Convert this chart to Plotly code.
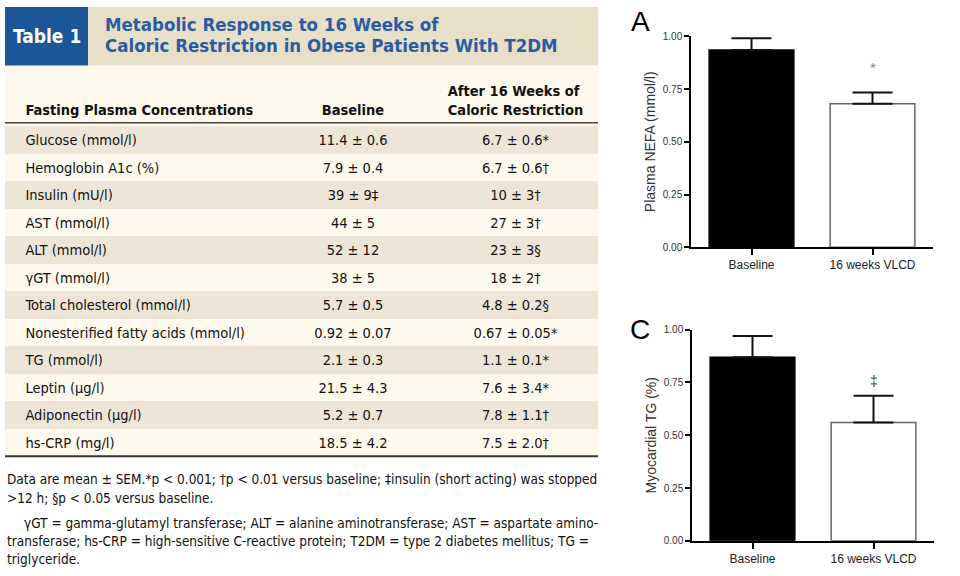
import plotly.graph_objects as go

W, H = 960, 576

# ---------------- data ----------------
table_title_1 = "Metabolic Response to 16 Weeks of"
table_title_2 = "Caloric Restriction in Obese Patients With T2DM"
col_headers = ["Fasting Plasma Concentrations", "Baseline", "After 16 Weeks of<br>Caloric Restriction"]
parameters = ["Glucose (mmol/l)", "Hemoglobin A1c (%)", "Insulin (mU/l)", "AST (mmol/l)",
              "ALT (mmol/l)", "γGT (mmol/l)", "Total cholesterol (mmol/l)",
              "Nonesterified fatty acids (mmol/l)", "TG (mmol/l)", "Leptin (μg/l)",
              "Adiponectin (μg/l)", "hs-CRP (mg/l)"]
baseline_vals = ["11.4 ± 0.6", "7.9 ± 0.4", "39 ± 9‡", "44 ± 5", "52 ± 12", "38 ± 5",
                 "5.7 ± 0.5", "0.92 ± 0.07", "2.1 ± 0.3", "21.5 ± 4.3", "5.2 ± 0.7", "18.5 ± 4.2"]
after_vals = ["6.7 ± 0.6*", "6.7 ± 0.6†", "10 ± 3†", "27 ± 3†", "23 ± 3§", "18 ± 2†",
              "4.8 ± 0.2§", "0.67 ± 0.05*", "1.1 ± 0.1*", "7.6 ± 3.4*", "7.8 ± 1.1†", "7.5 ± 2.0†"]
footnotes = [
    "Data are mean ± SEM.*p &lt; 0.001; †p &lt; 0.01 versus baseline; ‡insulin (short acting) was stopped",
    "&gt;12 h; §p &lt; 0.05 versus baseline.",
    "γGT = gamma-glutamyl transferase; ALT = alanine aminotransferase; AST = aspartate amino-",
    "transferase; hs-CRP = high-sensitive C-reactive protein; T2DM = type 2 diabetes mellitus; TG =",
    "triglyceride.",
]

groups = ["Baseline", "16 weeks VLCD"]
nefa_mean = [0.935, 0.68]
nefa_sem = [0.055, 0.053]
mtg_mean = [0.87, 0.56]
mtg_sem = [0.10, 0.127]

# ---------------- helpers ----------------
SY, OY = 0.976, 6.9   # measured vertical mapping of the photographed page

def px(x):
    return max(0.0, x / W)

def ppy(y):  # target picture y -> page y
    return (y - OY) / SY

def py(y):
    return max(0.0, min(1.0, 1 - ppy(y) / H))

NARROW = "Liberation Sans Narrow, DejaVu Sans Condensed, Arial Narrow, sans-serif"
ARIAL = "Liberation Sans, Arial, sans-serif"
CREAM = "#fdf9ec"
SHADE = "#ede6d6"
BEIGE = "#e8dfc8"
BLUE = "#1c5699"
TITLE_BLUE = "#2a5ca4"
TXT = "#111111"

pad = "\u00a0\u00a0\u00a0"
fig = go.Figure()

# ---------------- table ----------------
row_fill = [SHADE if i % 2 == 0 else CREAM for i in range(len(parameters))]
fig.add_trace(go.Table(
    domain=dict(x=[px(5), px(598)], y=[py(470), py(76)]),
    columnwidth=[268, 160, 165],
    header=dict(
        values=["\u00a0<br>" + pad + "<b>" + col_headers[0] + "</b>",
                "\u00a0<br><b>" + col_headers[1] + "</b>",
                "<b>" + col_headers[2] + "</b>"],
        align=["left", "center", "center"],
        fill_color=CREAM,
        line=dict(width=0, color=CREAM),
        font=dict(family=NARROW, size=14.5, color=TXT),
        height=47,
    ),
    cells=dict(
        values=[[pad + p for p in parameters], baseline_vals, after_vals],
        align=["left", "center", "center"],
        fill_color=[row_fill, row_fill, row_fill],
        line=dict(width=0, color=CREAM),
        font=dict(family=NARROW, size=14.5, color=TXT),
        height=27.5,
    ),
))

shapes = [
    dict(type="rect", xref="paper", yref="paper", x0=px(5), x1=px(598), y0=py(455), y1=py(66),
         fillcolor=CREAM, line=dict(width=0), layer="below"),
    dict(type="rect", xref="paper", yref="paper", x0=px(5), x1=px(88), y0=py(66), y1=py(8),
         fillcolor=BLUE, line=dict(width=0), layer="below"),
    dict(type="rect", xref="paper", yref="paper", x0=px(88), x1=px(598), y0=py(66), y1=py(8),
         fillcolor=BEIGE, line=dict(width=0), layer="below"),
    dict(type="line", xref="paper", yref="paper", x0=px(5), x1=px(598), y0=py(123), y1=py(123),
         line=dict(color="#444", width=1.5), layer="above"),
    dict(type="line", xref="paper", yref="paper", x0=px(5), x1=px(598), y0=py(455), y1=py(455),
         line=dict(color="#333", width=2), layer="above"),
]

annotations = [
    dict(text="<b>Table 1</b>", x=px(46.5), y=py(37), xref="paper", yref="paper",
         xanchor="center", yanchor="middle",
         showarrow=False, font=dict(family=NARROW, size=19, color="white")),
    dict(text="<b>" + table_title_1 + "</b>", x=px(103), y=py(25), xref="paper", yref="paper",
         xanchor="left", yanchor="middle",
         showarrow=False, font=dict(family=NARROW, size=18.5, color=TITLE_BLUE)),
    dict(text="<b>" + table_title_2 + "</b>", x=px(103), y=py(46), xref="paper", yref="paper",
         xanchor="left", yanchor="middle",
         showarrow=False, font=dict(family=NARROW, size=18.5, color=TITLE_BLUE)),
]
foot_pos = [(5, 478), (5, 496), (22, 521), (5, 539), (5, 557)]
for t, (fx, fy) in zip(footnotes, foot_pos):
    annotations.append(dict(text=t, x=px(fx), y=py(fy), xref="paper", yref="paper",
                            xanchor="left", yanchor="middle", showarrow=False,
                            font=dict(family=NARROW, size=13.5, color=TXT)))

# ---------------- bar charts ----------------
def add_bars(means, sems, xa, ya):
    fig.add_trace(go.Bar(
        x=groups, y=means, width=0.7, xaxis=xa, yaxis=ya,
        marker=dict(color=["black", "white"], line=dict(color=["black", "#666666"], width=1.5)),
        error_y=dict(type="data", symmetric=False, array=sems, arrayminus=[0, 0],
                     color="#111111", thickness=2, width=20),
        showlegend=False, hoverinfo="skip",
    ))

add_bars(nefa_mean, nefa_sem, "x", "y")
add_bars(mtg_mean, mtg_sem, "x2", "y2")

xcommon = dict(type="category", range=[-0.5, 1.5], showline=True, linecolor="black", linewidth=1.5,
               ticks="outside", ticklen=6, tickwidth=1.5, tickcolor="black", showgrid=False,
               zeroline=False, tickfont=dict(family=ARIAL, size=12, color="#222"))
ycommon = dict(range=[0, 1], showline=True, linecolor="black", linewidth=1.5,
               ticks="outside", ticklen=5, tickwidth=1.5, tickcolor="black", showgrid=False,
               zeroline=False, tickvals=[0, 0.25, 0.5, 0.75, 1.0], tickformat=".2f",
               tickfont=dict(family=ARIAL, size=10, color="#333"))

fig.update_layout(
    xaxis=dict(domain=[px(691), px(933)], anchor="y", **xcommon),
    yaxis=dict(domain=[py(247), py(37)], anchor="x",
               title=dict(text="Plasma NEFA (mmol/l)", standoff=4,
                          font=dict(family=ARIAL, size=14, color="#333")), **ycommon),
    xaxis2=dict(domain=[px(692), px(934)], anchor="y2", **xcommon),
    yaxis2=dict(domain=[py(539), py(329)], anchor="x2",
                title=dict(text="Myocardial TG (%)", standoff=4,
                           font=dict(family=ARIAL, size=14, color="#333")), **ycommon),
)

annotations += [
    dict(text="*", x=1, y=0.85, xref="x", yref="y", showarrow=False,
         xanchor="center", yanchor="middle",
         font=dict(family=ARIAL, size=15, color="#888")),
    dict(text="‡", x=1, y=0.755, xref="x2", yref="y2", showarrow=False,
         xanchor="center", yanchor="middle",
         font=dict(family=ARIAL, size=14, color="#444")),
    dict(text="A", x=px(640), y=py(22), xref="paper", yref="paper", showarrow=False,
         xanchor="center", yanchor="middle",
         font=dict(family=ARIAL, size=28, color="black")),
    dict(text="C", x=px(640), y=py(329), xref="paper", yref="paper", showarrow=False,
         xanchor="center", yanchor="middle",
         font=dict(family=ARIAL, size=28, color="black")),
]

fig.update_layout(
    width=W, height=H, margin=dict(l=0, r=0, t=0, b=0),
    paper_bgcolor="white", plot_bgcolor="rgba(0,0,0,0)",
    shapes=shapes, annotations=annotations, bargap=0.3,
)

fig.write_html("out.html", config={"displayModeBar": False},
               post_script="document.body.style.margin='0';"
                           "document.documentElement.style.overflow='hidden';")
